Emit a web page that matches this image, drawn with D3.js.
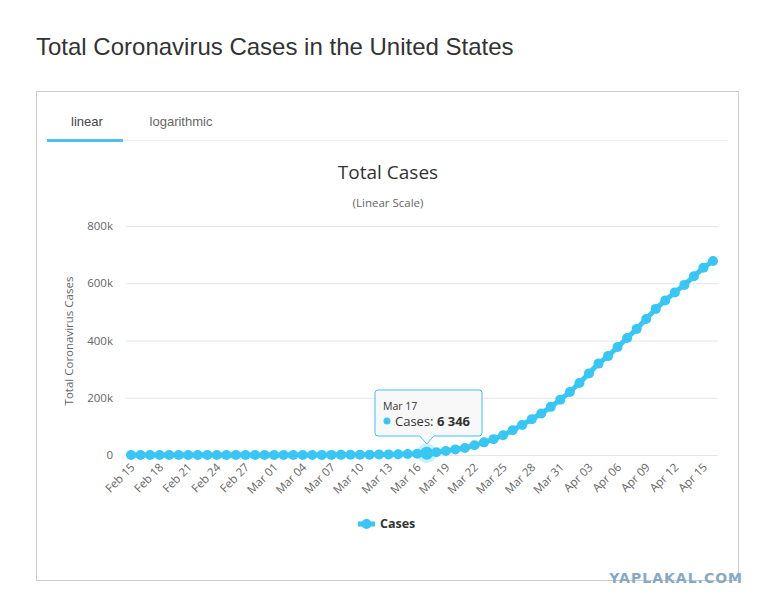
<!DOCTYPE html>
<html>
<head>
<meta charset="utf-8">
<script src="https://cdn.jsdelivr.net/npm/d3@7"></script>
<style>
  body { margin: 0; background: #fff; }
  svg { display: block; }
</style>
</head>
<body>
<svg id="chart" width="769" height="608"></svg>
<script>
// Data: US cumulative cases, Feb 15 .. Apr 16 2020
const startDate = "2020-02-15";
const cases = [
  15, 15, 15, 15, 15, 15, 35, 35, 35, 53, 57, 60, 60, 63, 68,
  75, 100, 124, 158, 221, 319, 435, 541, 704, 994, 1301, 1630, 2183, 2770, 3613,
  4596, 6346, 9317, 13898, 19551, 24418, 33840, 44189, 55398, 68905, 86379,
  105217, 124788, 144980, 168177, 193353, 220295, 251423, 285133, 319311, 345467,
  377308, 408857, 440591, 474887, 510372, 540144, 568037, 594207, 624188, 654302, 677570
];
const yTicks = [0, 200000, 400000, 600000, 800000];
const yTickLabels = ["0", "200k", "400k", "600k", "800k"];
const hoverIndex = 31; // Mar 17

const parse = d3.timeParse("%Y-%m-%d");
const dates = cases.map((c, i) => d3.timeDay.offset(parse(startDate), i));
const data = cases.map((c, i) => ({ date: dates[i], value: c }));

const color = "#38c6f4";
const chartFont = "'Open Sans', 'DejaVu Sans', sans-serif";
const svg = d3.select("#chart");

// Page title
svg.append("text").attr("x", 36).attr("y", 55)
  .attr("font-family", "'Liberation Sans', Arial, sans-serif").attr("font-size", 24)
  .attr("fill", "#333").text("Total Coronavirus Cases in the United States");

// Card
svg.append("rect").attr("x", 36.5).attr("y", 91.5).attr("width", 702).attr("height", 489)
  .attr("fill", "none").attr("stroke", "#ccc");

// Tabs
svg.append("line").attr("x1", 47).attr("x2", 728).attr("y1", 140.5).attr("y2", 140.5)
  .attr("stroke", "#eee");
svg.append("rect").attr("x", 47).attr("y", 139).attr("width", 76).attr("height", 3).attr("fill", "#4cc2e4");
svg.append("text").attr("x", 87).attr("y", 126).attr("text-anchor", "middle")
  .attr("font-family", "'Liberation Sans', Arial, sans-serif").attr("font-size", 13)
  .attr("fill", "#444").text("linear");
svg.append("text").attr("x", 181).attr("y", 126).attr("text-anchor", "middle")
  .attr("font-family", "'Liberation Sans', Arial, sans-serif").attr("font-size", 13)
  .attr("fill", "#666").text("logarithmic");

// Chart titles
svg.append("text").attr("x", 388).attr("y", 179).attr("text-anchor", "middle")
  .attr("font-family", chartFont).attr("font-size", 19).attr("fill", "#333").text("Total Cases");
svg.append("text").attr("x", 388).attr("y", 207).attr("text-anchor", "middle")
  .attr("font-family", chartFont).attr("font-size", 11.5).attr("fill", "#666").text("(Linear Scale)");

// Scales
const plot = { left: 126, right: 718, top: 226, bottom: 455 };
const x = d3.scaleTime().domain(d3.extent(dates)).range([131, 713]);
const y = d3.scaleLinear().domain([0, 800000]).range([plot.bottom, plot.top]);

// Grid + y labels
const yAxis = d3.axisLeft(y).tickValues(yTicks)
  .tickSize(-(plot.right - plot.left)).tickFormat((d, i) => yTickLabels[i]).tickPadding(13);
const gy = svg.append("g").attr("transform", `translate(${plot.left},0)`).call(yAxis);
gy.select(".domain").remove();
gy.selectAll("line").attr("stroke", "#e6e6e6");
gy.selectAll("text").attr("font-family", chartFont).attr("font-size", 11.5).attr("fill", "#666");

svg.append("text").attr("transform", `translate(73,341) rotate(-90)`).attr("text-anchor", "middle")
  .attr("font-family", chartFont).attr("font-size", 11.5).attr("fill", "#666").text("Total Coronavirus Cases");

// X axis
const xTickDates = dates.filter((d, i) => i % 3 === 0);
const xAxis = d3.axisBottom(x).tickValues(xTickDates).tickFormat(d3.timeFormat("%b %d")).tickSize(0);
const gx = svg.append("g").attr("transform", `translate(0,${plot.bottom})`).call(xAxis);
gx.select(".domain").remove();
gx.selectAll("text")
  .attr("font-family", chartFont).attr("font-size", 11.5).attr("fill", "#666")
  .attr("text-anchor", "end").attr("dy", 0).attr("y", 0)
  .attr("transform", "translate(4,13) rotate(-45)");

// Series
const line = d3.line().x(d => x(d.date)).y(d => y(d.value));
svg.append("path").datum(data).attr("d", line).attr("fill", "none")
  .attr("stroke", color).attr("stroke-width", 5).attr("stroke-linejoin", "round");
svg.append("g").selectAll("circle").data(data).join("circle")
  .attr("cx", d => x(d.date)).attr("cy", d => y(d.value)).attr("r", 5).attr("fill", color);

// Hovered point
const hp = data[hoverIndex];
const hx = x(hp.date), hy = y(hp.value);
svg.append("circle").attr("cx", hx).attr("cy", hy).attr("r", 10).attr("fill", color).attr("opacity", 0.25);
svg.append("circle").attr("cx", hx).attr("cy", hy).attr("r", 6.5).attr("fill", color);

// Tooltip
const tt = { left: 375, top: 390, w: 107, h: 46 };
const tipPath = `M${tt.left + 3},${tt.top} H${tt.left + tt.w - 3} Q${tt.left + tt.w},${tt.top} ${tt.left + tt.w},${tt.top + 3}
  V${tt.top + tt.h - 3} Q${tt.left + tt.w},${tt.top + tt.h} ${tt.left + tt.w - 3},${tt.top + tt.h}
  H${hx + 7} L${hx},${tt.top + tt.h + 8} L${hx - 7},${tt.top + tt.h}
  H${tt.left + 3} Q${tt.left},${tt.top + tt.h} ${tt.left},${tt.top + tt.h - 3}
  V${tt.top + 3} Q${tt.left},${tt.top} ${tt.left + 3},${tt.top} Z`;
svg.append("path").attr("d", tipPath).attr("fill", "rgba(247,247,247,0.92)")
  .attr("stroke", color).attr("stroke-width", 1);
svg.append("text").attr("x", 383).attr("y", 410).attr("font-family", chartFont)
  .attr("font-size", 10.5).attr("fill", "#333").text(d3.timeFormat("%b %d")(hp.date).replace(/ 0/, " "));
svg.append("circle").attr("cx", 387).attr("cy", 421).attr("r", 3.5).attr("fill", color);
const tv = svg.append("text").attr("x", 395).attr("y", 426).attr("font-family", chartFont)
  .attr("font-size", 13).attr("fill", "#333");
tv.append("tspan").text("Cases: ");
tv.append("tspan").attr("font-weight", "bold")
  .text(d3.format(",")(hp.value).replace(/,/g, " "));

// Legend
svg.append("line").attr("x1", 358).attr("x2", 375).attr("y1", 524).attr("y2", 524)
  .attr("stroke", color).attr("stroke-width", 5);
svg.append("circle").attr("cx", 366.5).attr("cy", 524).attr("r", 5).attr("fill", color);
svg.append("text").attr("x", 380).attr("y", 528).attr("font-family", chartFont)
  .attr("font-size", 12.5).attr("font-weight", "bold").attr("fill", "#333").text("Cases");

// Watermark
svg.append("text").attr("x", 743).attr("y", 583).attr("text-anchor", "end")
  .attr("font-family", "'DejaVu Sans', sans-serif").attr("font-size", 14).attr("font-weight", "bold")
  .attr("fill", "#86a9c4").attr("letter-spacing", 1).text("YAPLAKAL.COM");
</script>
</body>
</html>
